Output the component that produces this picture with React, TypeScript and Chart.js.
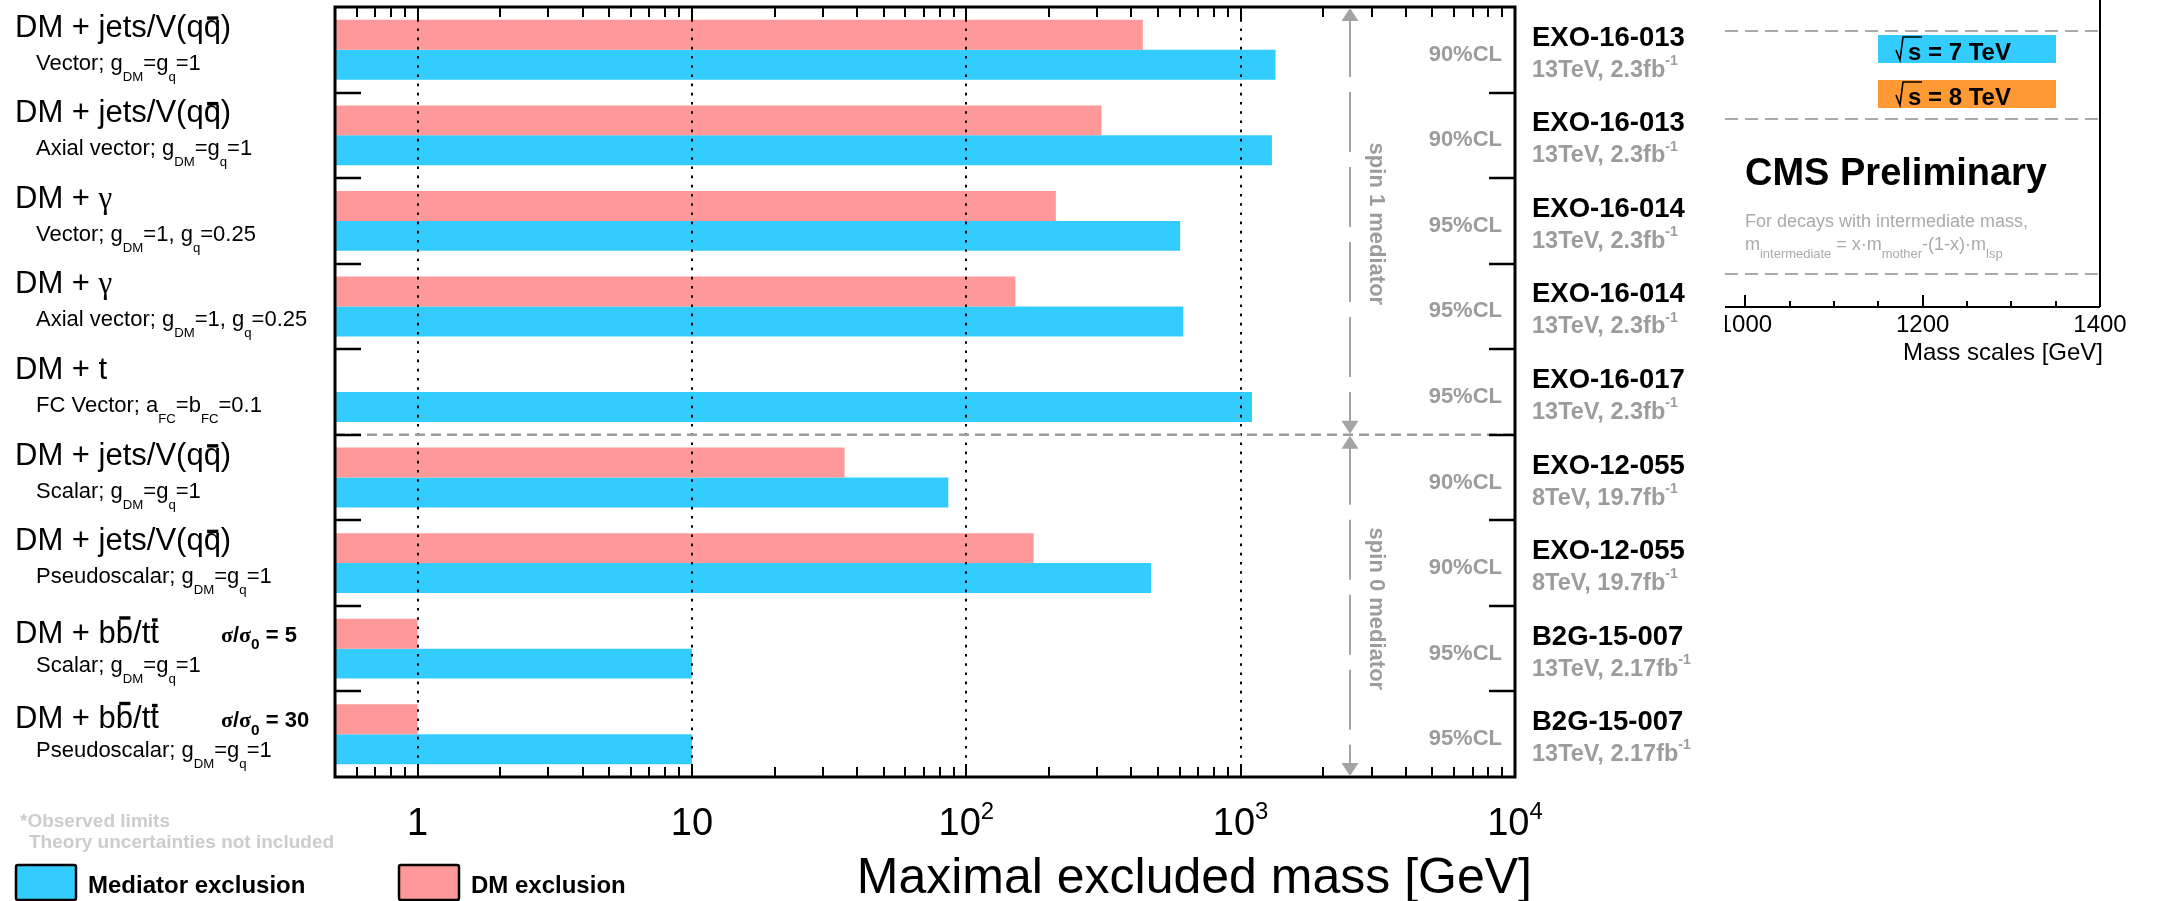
import React, { useEffect, useRef } from 'react';
import { Chart, registerables } from 'chart.js';

Chart.register(...registerables);

// ---------------- data ----------------
const processLabels = [
  'DM + jets/V(q#bar{q})',
  'DM + jets/V(q#bar{q})',
  'DM + #gamma',
  'DM + #gamma',
  'DM + t',
  'DM + jets/V(q#bar{q})',
  'DM + jets/V(q#bar{q})',
  'DM + b#bar{b}/t#bar{t}',
  'DM + b#bar{b}/t#bar{t}',
];
const couplingLabels = [
  'Vector; g_{DM}=g_{q}=1',
  'Axial vector; g_{DM}=g_{q}=1',
  'Vector; g_{DM}=1, g_{q}=0.25',
  'Axial vector; g_{DM}=1, g_{q}=0.25',
  'FC Vector; a_{FC}=b_{FC}=0.1',
  'Scalar; g_{DM}=g_{q}=1',
  'Pseudoscalar; g_{DM}=g_{q}=1',
  'Scalar; g_{DM}=g_{q}=1',
  'Pseudoscalar; g_{DM}=g_{q}=1',
];
const crossSectionNotes = ['', '', '', '', '', '', '', '#sigma/#sigma_{0} = 5', '#sigma/#sigma_{0} = 30'];
const analysisIds = [
  'EXO-16-013', 'EXO-16-013', 'EXO-16-014', 'EXO-16-014', 'EXO-16-017',
  'EXO-12-055', 'EXO-12-055', 'B2G-15-007', 'B2G-15-007',
];
const analysisData = [
  '13TeV, 2.3fb^{-1}', '13TeV, 2.3fb^{-1}', '13TeV, 2.3fb^{-1}', '13TeV, 2.3fb^{-1}', '13TeV, 2.3fb^{-1}',
  '8TeV, 19.7fb^{-1}', '8TeV, 19.7fb^{-1}', '13TeV, 2.17fb^{-1}', '13TeV, 2.17fb^{-1}',
];
const confidenceLevels = ['90%CL', '90%CL', '95%CL', '95%CL', '95%CL', '90%CL', '90%CL', '95%CL', '95%CL'];

// maximal excluded mass [GeV]
const dmExclusion: (number | null)[] = [440, 311, 212, 151, null, 36, 176, 1, 1];
const mediatorExclusion: number[] = [1340, 1300, 602, 618, 1100, 86, 472, 10, 10];

const xMin = 0.5;
const xMax = 10000;
const xTickValues = [1, 10, 100, 1000, 10000];
const xTickLabels = ['1', '10', '10^{2}', '10^{3}', '10^{4}'];
const xTitle = 'Maximal excluded mass [GeV]';

const spinLabels = ['spin 1 mediator', 'spin 0 mediator'];
const spinFirstRow = [0, 5];
const spinLastRow = [4, 8];
const spinArrowValue = 2500;

const massScaleMin = 977;
const massScaleMax = 1400;
const massScaleLabels = [1000, 1200, 1400];
const energyLabels = ['s = 7 TeV', 's = 8 TeV'];

// ---------------- styles ----------------
const SANS = '"Liberation Sans", Arial, Helvetica, sans-serif';
const SERIF = '"Liberation Serif", "Times New Roman", serif';
const PINK = '#ff9999';
const BLUE = '#33ccff';
const ORANGE = '#ff9933';
const GRAY = '#9c9c9c';

type Seg = { t: string; k: 'n' | 'sub' | 'sup'; bar: boolean; greek: boolean };

function parseRich(s: string): Seg[] {
  const out: Seg[] = [];
  let buf = '';
  const flush = () => {
    if (buf) {
      out.push({ t: buf, k: 'n', bar: false, greek: false });
      buf = '';
    }
  };
  let i = 0;
  while (i < s.length) {
    const c = s[i];
    if ((c === '_' || c === '^') && s[i + 1] === '{') {
      flush();
      const end = s.indexOf('}', i + 2);
      out.push({ t: s.slice(i + 2, end), k: c === '_' ? 'sub' : 'sup', bar: false, greek: false });
      i = end + 1;
    } else if (s.startsWith('#bar{', i)) {
      flush();
      const end = s.indexOf('}', i + 5);
      out.push({ t: s.slice(i + 5, end), k: 'n', bar: true, greek: false });
      i = end + 1;
    } else if (s.startsWith('#gamma', i)) {
      flush();
      out.push({ t: '\u03b3', k: 'n', bar: false, greek: true });
      i += 6;
    } else if (s.startsWith('#sigma', i)) {
      flush();
      out.push({ t: '\u03c3', k: 'n', bar: false, greek: true });
      i += 6;
    } else {
      buf += c;
      i++;
    }
  }
  flush();
  return out;
}

interface RichOpts {
  size: number;
  weight?: string;
  color?: string;
  align?: 'left' | 'center' | 'right';
  subScale?: number;
  subDrop?: number;
  supScale?: number;
  supRise?: number;
}

function segFont(seg: Seg, o: RichOpts) {
  const sz = seg.k === 'n' ? o.size : seg.k === 'sub' ? o.size * (o.subScale ?? 0.6) : o.size * (o.supScale ?? 0.6);
  return `${o.weight ?? 'normal'} ${sz}px ${seg.greek ? SERIF : SANS}`;
}

function drawRich(ctx: CanvasRenderingContext2D, s: string, x: number, y: number, o: RichOpts) {
  const segs = parseRich(s);
  ctx.save();
  ctx.textBaseline = 'alphabetic';
  ctx.textAlign = 'left';
  const widths = segs.map((seg) => {
    ctx.font = segFont(seg, o);
    return ctx.measureText(seg.t).width;
  });
  const total = widths.reduce((a, b) => a + b, 0);
  let cx = o.align === 'center' ? x - total / 2 : o.align === 'right' ? x - total : x;
  ctx.fillStyle = o.color ?? '#000';
  ctx.strokeStyle = o.color ?? '#000';
  segs.forEach((seg, i) => {
    ctx.font = segFont(seg, o);
    let dy = 0;
    if (seg.k === 'sub') dy = o.size * (o.subDrop ?? 0.5);
    if (seg.k === 'sup') dy = -o.size * (o.supRise ?? 0.5);
    ctx.fillText(seg.t, cx, y + dy);
    if (seg.bar) {
      const m = ctx.measureText(seg.t);
      const lw = Math.max(2, o.size * 0.11);
      const by = y + dy - m.actualBoundingBoxAscent - lw / 2;
      ctx.lineWidth = lw;
      ctx.beginPath();
      ctx.moveTo(cx + widths[i] * 0.2, by);
      ctx.lineTo(cx + widths[i] * 0.85, by);
      ctx.stroke();
    }
    cx += widths[i];
  });
  ctx.restore();
  return total;
}

function line(ctx: CanvasRenderingContext2D, x1: number, y1: number, x2: number, y2: number) {
  ctx.beginPath();
  ctx.moveTo(x1, y1);
  ctx.lineTo(x2, y2);
  ctx.stroke();
}

function arrowHead(ctx: CanvasRenderingContext2D, x: number, tipY: number, dir: number) {
  // dir = -1 points up, +1 points down
  ctx.beginPath();
  ctx.moveTo(x, tipY);
  ctx.lineTo(x - 8.5, tipY - dir * 13);
  ctx.lineTo(x + 8.5, tipY - dir * 13);
  ctx.closePath();
  ctx.fill();
}

const overlayPlugin = {
  id: 'cmsOverlay',
  beforeDraw(chart: any) {
    const ctx = chart.ctx as CanvasRenderingContext2D;
    ctx.save();
    ctx.fillStyle = '#fff';
    ctx.fillRect(0, 0, chart.width, chart.height);
    ctx.restore();
  },
  afterDatasetsDraw(chart: any) {
    const ctx = chart.ctx as CanvasRenderingContext2D;
    const { left, right, top, bottom } = chart.chartArea;
    const xs = chart.scales.x;
    const ys = chart.scales.y;
    const rowC = (i: number) => ys.getPixelForValue(i);
    const rowH = rowC(1) - rowC(0);
    const boundary = (i: number) => rowC(i) - rowH / 2; // top edge of row i

    ctx.save();
    // dotted major grid lines
    ctx.strokeStyle = '#000';
    ctx.lineWidth = 2;
    ctx.setLineDash([2.6, 6.6]);
    xTickValues.slice(0, -1).forEach((v) => {
      const px = Math.round(xs.getPixelForValue(v));
      line(ctx, px, top + 3, px, bottom - 2);
    });
    ctx.setLineDash([]);

    // minor/major ticks top & bottom
    ctx.lineWidth = 2;
    for (let d = -1; d <= 3; d++) {
      for (let m = 1; m <= 9; m++) {
        const v = m * Math.pow(10, d);
        if (v <= xMin || v >= xMax) continue;
        const px = Math.round(xs.getPixelForValue(v));
        const len = m === 1 ? 13 : 10;
        line(ctx, px, top, px, top + len);
        line(ctx, px, bottom, px, bottom - len);
      }
    }

    // spin separator dashed line
    const sepY = boundary(spinFirstRow[1]);
    ctx.strokeStyle = GRAY;
    ctx.lineWidth = 2.5;
    ctx.setLineDash([10, 6]);
    line(ctx, left, sepY, right, sepY);
    ctx.setLineDash([]);

    // row ticks left/right
    ctx.strokeStyle = '#000';
    ctx.lineWidth = 2.5;
    for (let i = 1; i < processLabels.length; i++) {
      const y = Math.round(boundary(i));
      line(ctx, left, y, left + 26, y);
      line(ctx, right - 26, y, right, y);
    }

    // frame
    ctx.lineWidth = 3;
    ctx.strokeRect(left, top, right - left, bottom - top);

    // spin arrows
    const ax = Math.round(xs.getPixelForValue(spinArrowValue));
    spinLabels.forEach((lab, g) => {
      const y1 = boundary(spinFirstRow[g]);
      const y2 = boundary(spinLastRow[g]) + rowH;
      ctx.strokeStyle = '#a4a4a4';
      ctx.fillStyle = '#a4a4a4';
      ctx.lineWidth = 2;
      ctx.setLineDash([60, 15]);
      line(ctx, ax, y1 + 10, ax, y2 - 10);
      ctx.setLineDash([]);
      arrowHead(ctx, ax, y1 + 1, -1);
      arrowHead(ctx, ax, y2 - 1, 1);
      ctx.save();
      ctx.translate(ax + 26, (y1 + y2) / 2 + 3);
      ctx.rotate(Math.PI / 2);
      ctx.font = `bold 22px ${SANS}`;
      ctx.fillStyle = GRAY;
      ctx.textAlign = 'center';
      ctx.textBaseline = 'middle';
      ctx.fillText(lab, 0, 0);
      ctx.restore();
    });

    // per-row texts
    for (let i = 0; i < processLabels.length; i++) {
      const c = rowC(i);
      const hasNote = crossSectionNotes[i] !== '';
      drawRich(ctx, processLabels[i], 15, c + (hasNote ? -6 : -13), { size: 31 });
      drawRich(ctx, couplingLabels[i], 36, c + (hasNote ? 23 : 20), { size: 22, subScale: 0.6, subDrop: 0.5 });
      if (hasNote) {
        drawRich(ctx, crossSectionNotes[i], 221, c - 7, { size: 22, weight: 'bold', subScale: 0.7, subDrop: 0.35 });
      }
      // CL inside plot
      ctx.font = `bold 22px ${SANS}`;
      ctx.fillStyle = GRAY;
      ctx.textAlign = 'right';
      ctx.textBaseline = 'alphabetic';
      ctx.fillText(confidenceLevels[i], right - 13, c + 11);
      // analysis ids
      ctx.textAlign = 'left';
      ctx.font = `bold 27.5px ${SANS}`;
      ctx.fillStyle = '#000';
      ctx.fillText(analysisIds[i], right + 17, c - 4);
      drawRich(ctx, analysisData[i], right + 17, c + 27, {
        size: 23.5,
        weight: 'bold',
        color: GRAY,
        supScale: 0.6,
        supRise: 0.5,
      });
    }

    // x tick labels
    xTickValues.forEach((v, i) => {
      const px = xs.getPixelForValue(v);
      drawRich(ctx, xTickLabels[i], px, bottom + 58, { size: 38, align: 'center', supScale: 0.63, supRise: 0.42 });
    });
    // x title
    ctx.font = `50px ${SANS}`;
    ctx.fillStyle = '#000';
    ctx.textAlign = 'right';
    ctx.fillText(xTitle, right + 17, bottom + 116);

    // footnotes
    ctx.textAlign = 'left';
    ctx.font = `bold 19px ${SANS}`;
    ctx.fillStyle = '#cccccc';
    ctx.fillText('*Observed limits', 20, bottom + 50);
    ctx.fillText('Theory uncertainties not included', 29, bottom + 71);

    // legend
    const legendItems = [
      { label: chart.data.datasets[1].label, color: BLUE, x: 16 },
      { label: chart.data.datasets[0].label, color: PINK, x: 399 },
    ];
    legendItems.forEach((it) => {
      ctx.fillStyle = it.color;
      ctx.strokeStyle = '#000';
      ctx.lineWidth = 2.5;
      ctx.beginPath();
      ctx.roundRect(it.x, bottom + 88, 60, 35, 2);
      ctx.fill();
      ctx.stroke();
      ctx.fillStyle = '#000';
      ctx.font = `bold 24px ${SANS}`;
      ctx.fillText(it.label, it.x + 72, bottom + 116);
    });

    // ---------- right panel ----------
    const pL = 1725;
    const pR = 2100;
    const axisY = 307;
    const mx = (v: number) => pL + ((v - massScaleMin) / (massScaleMax - massScaleMin)) * (pR - pL);

    ctx.strokeStyle = '#000';
    ctx.lineWidth = 2;
    line(ctx, pR, 0, pR, axisY);
    line(ctx, pL, axisY, pR, axisY);
    for (let v = 1000; v <= massScaleMax; v += 50) {
      const px = Math.round(mx(v));
      line(ctx, px, axisY, px, axisY - (v % 200 === 0 ? 12 : 6));
    }
    ctx.save();
    ctx.beginPath();
    ctx.rect(pL, axisY, 500, 80);
    ctx.clip();
    ctx.font = `24px ${SANS}`;
    ctx.fillStyle = '#000';
    ctx.textAlign = 'center';
    massScaleLabels.forEach((v) => ctx.fillText(String(v), mx(v), axisY + 25));
    ctx.restore();
    ctx.font = `24px ${SANS}`;
    ctx.fillStyle = '#000';
    ctx.textAlign = 'right';
    ctx.fillText('Mass scales [GeV]', pR + 3, 360);

    // gray dashed separators
    ctx.strokeStyle = '#aaaaaa';
    ctx.lineWidth = 2;
    ctx.setLineDash([13, 7]);
    [31, 119, 274].forEach((y) => line(ctx, pL, y, pR - 2, y));
    ctx.setLineDash([]);

    // energy boxes
    [BLUE, ORANGE].forEach((col, k) => {
      const by = 35 + k * 45;
      ctx.fillStyle = col;
      ctx.fillRect(1878, by, 178, 28);
      ctx.strokeStyle = '#000';
      ctx.lineWidth = 1.6;
      ctx.beginPath();
      ctx.moveTo(1896, by + 15);
      ctx.lineTo(1900, by + 25);
      ctx.lineTo(1903, by + 2);
      ctx.lineTo(1922, by + 2);
      ctx.stroke();
      ctx.fillStyle = '#000';
      ctx.font = `bold 24px ${SANS}`;
      ctx.textAlign = 'left';
      ctx.fillText(energyLabels[k], 1908, by + 25);
    });

    ctx.font = `bold 38px ${SANS}`;
    ctx.fillStyle = '#000';
    ctx.textAlign = 'left';
    ctx.fillText('CMS Preliminary', 1745, 185);

    ctx.font = `18px ${SANS}`;
    ctx.fillStyle = '#aaaaaa';
    ctx.fillText('For decays with intermediate mass,', 1745, 227);
    drawRich(ctx, 'm_{intermediate} = x\u00b7m_{mother}-(1-x)\u00b7m_{lsp}', 1745, 250, {
      size: 18,
      color: '#aaaaaa',
      subScale: 0.72,
      subDrop: 0.45,
    });

    ctx.restore();
  },
};

export default function App() {
  const ref = useRef<HTMLCanvasElement>(null);
  useEffect(() => {
    if (!ref.current) return;
    const chart = new Chart(ref.current, {
      type: 'bar',
      data: {
        labels: processLabels.map((p, i) => `${p} | ${couplingLabels[i]}`),
        datasets: [
          {
            label: 'DM exclusion',
            data: dmExclusion,
            backgroundColor: PINK,
            borderWidth: 0,
            categoryPercentage: 0.7,
            barPercentage: 1.0,
          },
          {
            label: 'Mediator exclusion',
            data: mediatorExclusion,
            backgroundColor: BLUE,
            borderWidth: 0,
            categoryPercentage: 0.7,
            barPercentage: 1.0,
          },
        ],
      },
      options: {
        indexAxis: 'y',
        animation: false,
        responsive: false,
        devicePixelRatio: 1,
        events: [],
        layout: { padding: { left: 335, right: 645, top: 7, bottom: 124 } },
        scales: {
          x: { type: 'logarithmic', min: xMin, max: xMax, display: false },
          y: { type: 'category', display: false },
        },
        plugins: {
          legend: { display: false },
          tooltip: { enabled: false },
        },
      },
      plugins: [overlayPlugin],
    } as any);
    return () => chart.destroy();
  }, []);
  return (
    <div style={{ position: 'absolute', left: 0, top: 0, width: 2160, height: 901, background: '#fff' }}>
      <canvas ref={ref} width={2160} height={901} style={{ display: 'block', width: 2160, height: 901 }} />
    </div>
  );
}
